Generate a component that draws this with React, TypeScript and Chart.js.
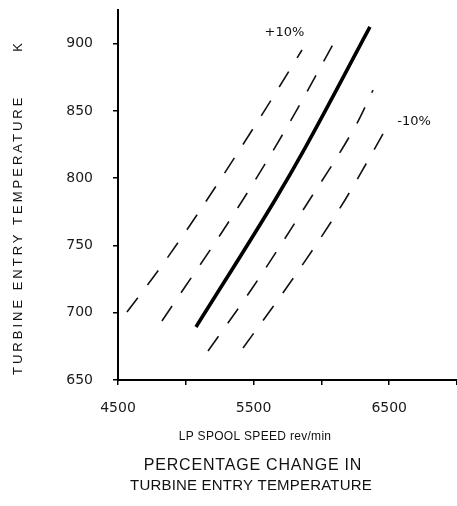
import React, { useEffect, useRef } from "react";
import { Chart, registerables } from "chart.js";

Chart.register(...registerables);

// LP spool speed (rev/min) vs turbine entry temperature (K)
const plus10X = [4566, 4810, 5097, 5569, 5857];
const plus10Y = [700.5, 733.2, 774.9, 848.4, 895.3];
const plus5X = [4824, 5378, 5768, 6115];
const plus5Y = [693.9, 777.1, 841.8, 904.9];
const baseX = [5075, 5658, 5879, 6358];
const baseY = [689.4, 783.8, 822.4, 912.4];
const minus5X = [5164, 5496, 5879, 6263, 6381];
const minus5Y = [671.6, 719.1, 778.6, 841.0, 865.5];
const minus10X = [5422, 5783, 6174, 6491];
const minus10Y = [673.8, 724.3, 783.8, 839.5];

const xTicks = [4500, 5000, 5500, 6000, 6500, 7000];
const xTickLabels = [4500, 5500, 6500];
const yTicks = [650, 700, 750, 800, 850, 900];

const xMin = 4500;
const xMax = 7000;
const yMin = 650;
const yMax = 925;

const curveLabels = ["+10%", "-10%"];
const curveLabelX = [5728, 6684];
const curveLabelY = [908, 842];

const yTitle = "TURBINE ENTRY TEMPERATURE";
const yUnit = "K";
const xTitle = "LP SPOOL SPEED rev/min";
const titleLines = ["PERCENTAGE CHANGE IN", "TURBINE ENTRY TEMPERATURE"];

const FONT = '"Liberation Sans", Arial, sans-serif';
const TICKFONT = '"DejaVu Sans", sans-serif';

const pts = (xs: number[], ys: number[]) => xs.map((x, i) => ({ x, y: ys[i] }));

const textPlugin = {
  id: "textPlugin",
  afterDraw(chart: any) {
    const ctx = chart.ctx as CanvasRenderingContext2D;
    const xs = chart.scales.x;
    const ys = chart.scales.y;
    const area = chart.chartArea;
    ctx.save();
    ctx.fillStyle = "#111";
    // curve labels
    ctx.font = `13px ${TICKFONT}`;
    ctx.textAlign = "center";
    ctx.textBaseline = "middle";
    curveLabels.forEach((t, i) => {
      ctx.fillText(t, xs.getPixelForValue(curveLabelX[i]), ys.getPixelForValue(curveLabelY[i]));
    });
    // y title
    ctx.save();
    ctx.translate(18, 0);
    ctx.rotate(-Math.PI / 2);
    ctx.font = `13px ${FONT}`;
    (ctx as any).letterSpacing = "3px";
    ctx.textAlign = "left";
    ctx.textBaseline = "middle";
    ctx.fillText(yTitle, -area.bottom + 5, 0);
    ctx.textAlign = "center";
    ctx.fillText(yUnit, -46, 0);
    ctx.restore();
    // x title
    ctx.font = `12px ${FONT}`;
    (ctx as any).letterSpacing = "0.3px";
    ctx.textAlign = "center";
    ctx.textBaseline = "middle";
    ctx.fillText(xTitle, 255, 437);
    // bottom title
    ctx.font = `16px ${FONT}`;
    (ctx as any).letterSpacing = "0.8px";
    ctx.fillText(titleLines[0], 253, 466);
    ctx.font = `15px ${FONT}`;
    (ctx as any).letterSpacing = "0.2px";
    ctx.fillText(titleLines[1], 251, 486);
    ctx.restore();
  },
};

export default function App() {
  const ref = useRef<HTMLCanvasElement>(null);
  useEffect(() => {
    if (!ref.current) return;
    const dashed = (xs: number[], ys: number[]) => ({
      data: pts(xs, ys),
      borderColor: "#111",
      borderWidth: 1.6,
      borderDash: [18, 16],
      pointRadius: 0,
      fill: false,
      cubicInterpolationMode: "monotone",
    });
    const chart = new Chart(ref.current, {
      type: "line",
      data: {
        datasets: [
          dashed(plus10X, plus10Y),
          dashed(plus5X, plus5Y),
          {
            data: pts(baseX, baseY),
            borderColor: "#000",
            borderWidth: 3.6,
            pointRadius: 0,
            fill: false,
            cubicInterpolationMode: "monotone",
          },
          dashed(minus5X, minus5Y),
          dashed(minus10X, minus10Y),
        ],
      },
      options: {
        responsive: false,
        animation: false,
        devicePixelRatio: 1,
        layout: { padding: { top: 10, left: 0, right: 0, bottom: 0 } },
        plugins: { legend: { display: false }, tooltip: { enabled: false }, title: { display: false } },
        scales: {
          x: {
            type: "linear",
            min: xMin,
            max: xMax,
            afterFit: (s: any) => {
              s.height = 126;
              s.paddingLeft = 0;
              s.paddingRight = 0;
            },
            afterBuildTicks: (s: any) => {
              s.ticks = xTicks.map((v) => ({ value: v }));
            },
            border: { display: true, color: "#000", width: 2 },
            grid: { display: true, drawOnChartArea: false, drawTicks: true, tickLength: 5, color: "#000", lineWidth: 1.5 },
            ticks: {
              color: "#1a1a1a",
              font: { family: TICKFONT, size: 14 },
              padding: 15,
              maxRotation: 0,
              autoSkip: false,
              callback: (v: any) => (xTickLabels.includes(Number(v)) ? String(v) : ""),
            },
          },
          y: {
            type: "linear",
            min: yMin,
            max: yMax,
            afterFit: (s: any) => {
              s.width = 118;
              s.paddingTop = 0;
              s.paddingBottom = 0;
            },
            afterBuildTicks: (s: any) => {
              s.ticks = yTicks.map((v) => ({ value: v }));
            },
            border: { display: true, color: "#000", width: 2 },
            grid: { display: true, drawOnChartArea: false, drawTicks: true, tickLength: 5, color: "#000", lineWidth: 1.5 },
            ticks: {
              color: "#1a1a1a",
              font: { family: TICKFONT, size: 14 },
              padding: 20,
              autoSkip: false,
              callback: (v: any) => String(v),
            },
          },
        },
      },
      plugins: [textPlugin],
    } as any);
    return () => chart.destroy();
  }, []);
  return (
    <div style={{ position: "absolute", left: 0, top: 0, width: 457, height: 506 }}>
      <canvas ref={ref} width={457} height={506} />
    </div>
  );
}
